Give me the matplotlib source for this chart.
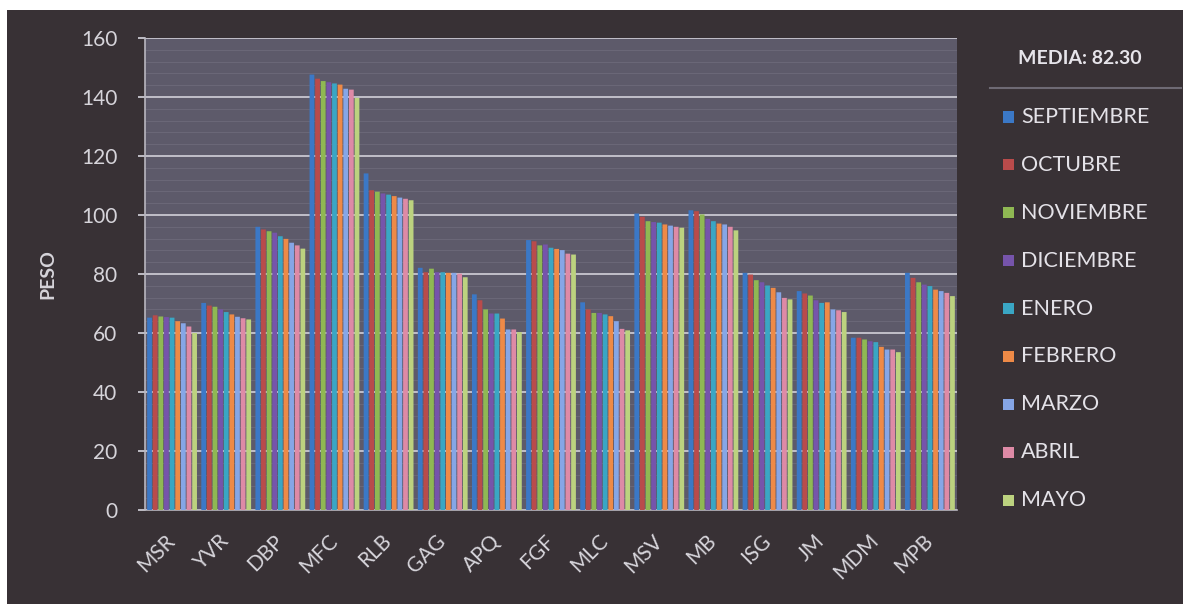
import numpy as np
import matplotlib
matplotlib.use("Agg")
import matplotlib.pyplot as plt
from matplotlib.patches import Rectangle
from matplotlib.lines import Line2D

plt.rcParams['font.family'] = ['Lato', 'DejaVu Sans']

# pesos por alumno (kg), de septiembre a mayo
alumnos = ["MSR", "YVR", "DBP", "MFC", "RLB", "GAG", "APQ", "FGF",
           "MLC", "MSV", "MB", "ISG", "JM", "MDM", "MPB"]
meses = ["SEPTIEMBRE", "OCTUBRE", "NOVIEMBRE", "DICIEMBRE", "ENERO",
         "FEBRERO", "MARZO", "ABRIL", "MAYO"]

septiembre = [65.2, 70.2, 96.0, 147.6, 114.1, 82.1, 73.1, 91.5, 70.4, 100.5, 101.6, 80.4, 74.2, 58.4, 80.4]
octubre    = [66.0, 69.3, 95.1, 146.2, 108.4, 80.6, 71.1, 91.1, 68.0, 99.4, 101.3, 79.8, 73.4, 58.4, 78.7]
noviembre  = [65.6, 68.9, 94.5, 145.4, 107.9, 81.8, 68.0, 89.7, 66.8, 97.9, 100.2, 77.9, 72.7, 57.8, 77.2]
diciembre  = [65.4, 68.0, 94.0, 145.0, 107.3, 80.6, 66.6, 90.0, 66.8, 97.6, 98.7, 77.2, 71.1, 57.2, 76.4]
enero      = [65.2, 67.1, 92.8, 144.6, 106.9, 80.6, 66.6, 88.9, 66.3, 97.4, 97.9, 76.1, 70.2, 56.9, 75.9]
febrero    = [64.0, 66.3, 91.9, 144.2, 106.4, 80.4, 64.9, 88.5, 65.7, 96.8, 97.1, 75.3, 70.4, 55.3, 74.7]
marzo      = [63.3, 65.5, 90.6, 142.8, 105.9, 80.4, 61.2, 88.1, 64.0, 96.4, 96.8, 73.8, 68.0, 54.4, 74.2]
abril      = [62.2, 65.0, 89.7, 142.5, 105.5, 80.1, 61.2, 86.9, 61.4, 96.0, 96.0, 71.9, 67.7, 54.4, 73.6]
mayo       = [60.0, 64.6, 88.6, 139.7, 105.0, 78.9, 60.3, 86.6, 60.9, 95.7, 94.8, 71.4, 67.1, 53.5, 72.5]

series = [septiembre, octubre, noviembre, diciembre, enero, febrero, marzo, abril, mayo]
media = "MEDIA: 82.30"

colores = ["#3b78c6", "#b94b4b", "#8fb853", "#7654ab", "#3aa6c4",
           "#ee8a47", "#86a6e6", "#de8aa6", "#bcd27f"]

W, H = 1187, 604
fondo = "#383135"
area = "#5d5a6a"
claro = "#d6d4da"

fig = plt.figure(figsize=(W / 100, H / 100), dpi=100, facecolor="white")
# panel oscuro del grafico
fig.patches.append(Rectangle((7 / W, 0), (1183 - 7) / W, (H - 10) / H,
                             transform=fig.transFigure, facecolor=fondo,
                             edgecolor="none", zorder=-10))

ax = fig.add_axes([145 / W, 94 / H, 812 / W, 472 / H])
ax.set_facecolor(area)

x = np.arange(len(alumnos))
paso = 0.104
ancho = 0.088
for j, (vals, c) in enumerate(zip(series, colores)):
    barras = ax.bar(x + (j - 4) * paso, vals, width=ancho, color=c, zorder=3)
    for b in barras:
        b.set_snap(False)

ax.set_xlim(-0.5, len(alumnos) - 0.5)
ax.set_ylim(0, 160)
ax.set_yticks(np.arange(0, 161, 20))
ax.set_yticks(np.arange(0, 161, 4), minor=True)
ax.grid(axis="y", which="major", color="#c9c7d0", linewidth=1.3, zorder=1)
ax.grid(axis="y", which="minor", color="#6a677783", linewidth=0.8, zorder=0)
ax.tick_params(axis="y", which="major", colors="#c9c7d0", length=5, width=1.3,
               pad=15, labelsize=15, labelcolor=claro)
ax.tick_params(axis="y", which="minor", length=0)
ax.tick_params(axis="x", length=0, pad=20, labelsize=15, labelcolor=claro)

ax.set_xticks(x)
ax.set_xticklabels(alumnos, rotation=45, ha="right", va="center",
                   rotation_mode="anchor")

for s in ["top", "right"]:
    ax.spines[s].set_visible(False)
for s in ["left", "bottom"]:
    ax.spines[s].set_color("#b9b7c0")
    ax.spines[s].set_linewidth(1.2)

ax.set_ylabel("PESO", fontsize=14, fontweight="bold", color=claro)
ax.yaxis.set_label_coords((56 - 145) / 812, 0.5)

# leyenda a la derecha con la media arriba
fig.text(1080 / W, 1 - 58 / H, media, ha="center", va="center",
         fontsize=14, fontweight="bold", color="#e6e4ea")
fig.add_artist(Line2D([990 / W, 1181 / W], [1 - 88 / H, 1 - 88 / H],
                      transform=fig.transFigure, color="#6e6a74", linewidth=1.5))
for i, (m, c) in enumerate(zip(meses, colores)):
    yc = 117 + 47.9 * i
    fig.patches.append(Rectangle((1003 / W, 1 - (yc + 5.5) / H), 11 / W, 11 / H,
                                 transform=fig.transFigure, facecolor=c,
                                 edgecolor="none"))
    fig.text(1021 / W, 1 - yc / H, m, ha="left", va="center",
             fontsize=15.5, color="#e4e2e8")

fig.savefig("out.png", dpi=100, facecolor=fig.get_facecolor())
